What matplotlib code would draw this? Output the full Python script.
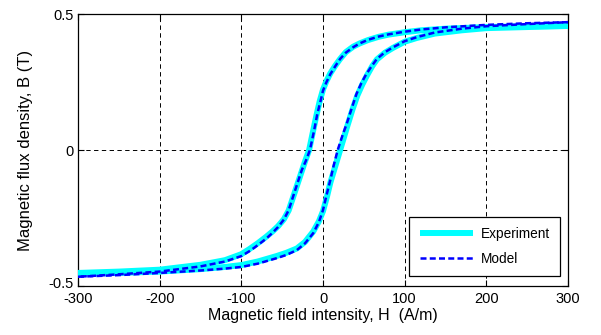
import matplotlib
matplotlib.use("Agg")
import matplotlib.pyplot as plt
from matplotlib.transforms import ScaledTranslation

plt.rcParams['font.family'] = ['Liberation Sans', 'DejaVu Sans']
plt.rcParams['axes.unicode_minus'] = False

# Experiment: descending branch
exp_desc_H = [300, 250, 200, 150, 120, 100, 80, 68, 55, 45, 37, 28, 21, 15, 9, 4, 0, -4, -8, -12, -17, -22, -26, -34, -42, -48, -55, -62, -70, -80, -90, -100, -120, -150, -200, -250, -300]
exp_desc_B = [0.456, 0.455, 0.452, 0.446, 0.440, 0.433, 0.424, 0.416, 0.404, 0.392, 0.380, 0.360, 0.335, 0.310, 0.282, 0.252, 0.222, 0.180, 0.128, 0.072, 0.0, -0.042, -0.078, -0.150, -0.222, -0.255, -0.280, -0.300, -0.320, -0.343, -0.364, -0.383, -0.405, -0.422, -0.440, -0.447, -0.452]
# Experiment: ascending branch
exp_asc_H = [-300, -250, -200, -150, -120, -100, -80, -57, -45, -32, -22, -12, -5, 0, 5, 9, 15, 21, 26, 30, 36, 42, 48, 54, 60, 66, 76, 86, 100, 115, 137, 170, 200, 250, 300]
exp_asc_B = [-0.455, -0.452, -0.447, -0.438, -0.430, -0.423, -0.410, -0.390, -0.378, -0.362, -0.338, -0.300, -0.262, -0.225, -0.170, -0.120, -0.060, 0.0, 0.050, 0.090, 0.148, 0.200, 0.240, 0.275, 0.307, 0.333, 0.358, 0.376, 0.398, 0.412, 0.428, 0.440, 0.448, 0.452, 0.456]

# Model: descending branch
mod_desc_H = [300, 250, 200, 150, 120, 100, 80, 68, 55, 45, 37, 28, 21, 15, 9, 4, 0, -3, -7, -11, -16, -21, -26, -34, -42, -48, -55, -62, -70, -80, -89, -100, -120, -150, -200, -250, -300]
mod_desc_B = [0.470, 0.466, 0.460, 0.451, 0.443, 0.435, 0.425, 0.417, 0.405, 0.392, 0.378, 0.358, 0.335, 0.308, 0.279, 0.248, 0.218, 0.180, 0.132, 0.070, 0.0, -0.040, -0.074, -0.147, -0.221, -0.256, -0.283, -0.305, -0.327, -0.350, -0.370, -0.390, -0.410, -0.428, -0.447, -0.457, -0.466]
# Model: ascending branch
mod_asc_H = [-300, -250, -200, -150, -120, -100, -80, -57, -45, -32, -22, -12, -5, 0, 4, 9, 13, 18, 24, 29, 35, 41, 47, 53, 60, 66, 76, 86, 100, 115, 137, 170, 200, 250, 300]
mod_asc_B = [-0.466, -0.460, -0.452, -0.443, -0.436, -0.430, -0.418, -0.398, -0.386, -0.368, -0.343, -0.306, -0.265, -0.221, -0.170, -0.110, -0.058, 0.0, 0.055, 0.096, 0.152, 0.206, 0.246, 0.279, 0.310, 0.335, 0.360, 0.378, 0.400, 0.415, 0.432, 0.446, 0.455, 0.463, 0.470]

x_ticks = [-300, -200, -100, 0, 100, 200, 300]
x_ticklabels = ['-300', '-200', '-100', '0', '100', '200', '300']
y_ticks = [-0.5, 0, 0.5]
y_ticklabels = ['-0.5', '0', '0.5']

fig = plt.figure(figsize=(6.01, 3.35), dpi=100)
ax = fig.add_axes([78/601, 49/335, 490/601, 272/335])

ax.plot(exp_desc_H, exp_desc_B, color='#00FFFF', lw=4.3, solid_capstyle='butt', solid_joinstyle='round', label='Experiment', zorder=3)
ax.plot(exp_asc_H, exp_asc_B, color='#00FFFF', lw=4.3, solid_capstyle='butt', solid_joinstyle='round', zorder=3)
ax.plot(mod_desc_H, mod_desc_B, color='#0000FF', lw=1.8, linestyle=(0, (2.4, 1.3)), label='Model', zorder=4)
ax.plot(mod_asc_H, mod_asc_B, color='#0000FF', lw=1.8, linestyle=(0, (2.4, 1.3)), zorder=4)

ax.set_xlim(-300, 300)
ax.set_ylim(-0.5, 0.5)
ax.set_xticks(x_ticks)
ax.set_xticklabels(x_ticklabels)
ax.set_yticks(y_ticks)
ax.set_yticklabels(y_ticklabels)
ax.tick_params(direction='in', length=4, width=0.8, labelsize=10.5, top=True, right=True)
ax.tick_params(axis='x', pad=4)
ax.tick_params(axis='y', pad=3)
ax.grid(True, color='black', linestyle=(0, (4.5, 3.5)), linewidth=0.7)
for s in ax.spines.values():
    s.set_linewidth(0.9)

# lift the bottom y tick label slightly so it does not collide with "-300"
ylabs = ax.get_yticklabels()
ylabs[0].set_transform(ylabs[0].get_transform() + ScaledTranslation(0, 3/100, fig.dpi_scale_trans))

ax.set_xlabel('Magnetic field intensity, H  (A/m)', fontsize=11.5, labelpad=2)
ax.set_ylabel('Magnetic flux density, B (T)', fontsize=12, labelpad=11)

leg = ax.legend(loc='lower right', bbox_to_anchor=(0.984, 0.037), borderaxespad=0, fontsize=9.8, frameon=True,
                fancybox=False, edgecolor='black', framealpha=1, handlelength=3.9,
                borderpad=0.75, labelspacing=0.8, handletextpad=0.6)
leg.get_frame().set_linewidth(0.9)

fig.savefig('out.png', dpi=100)
